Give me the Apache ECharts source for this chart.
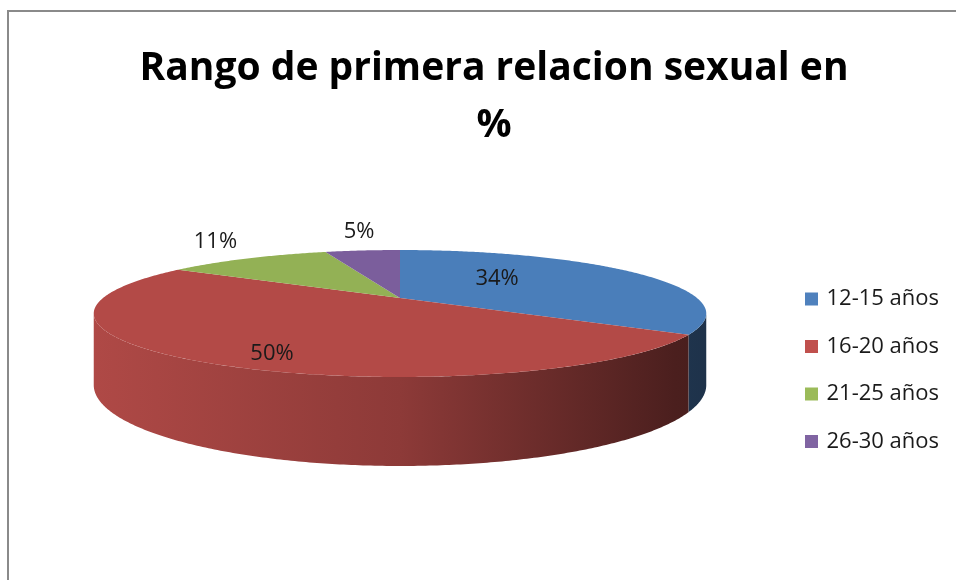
<!DOCTYPE html>
<html>
<head>
<meta charset="utf-8">
<title>Rango de primera relacion sexual en %</title>
<script src="https://cdn.jsdelivr.net/npm/echarts@6/dist/echarts.min.js"></script>
<style>
    html, body { margin: 0; padding: 0; background: #fff; }
    #chart1 { width: 956px; height: 580px; }
</style>
</head>
<body>
<div id="chart1"></div>
<script>
// datos
var categorias = ['12-15 años', '16-20 años', '21-25 años', '26-30 años'];
var porcentajes = [34, 50, 11, 5];

// colores (leyenda y cara superior del pastel)
var coloresLeyenda = ['#4F81BD', '#C0504D', '#9BBB59', '#8064A2'];
var coloresTapa = ['#4A7EBA', '#B34A47', '#93B155', '#7B5E9C'];

// geometria del pastel 3D (perspectiva simple)
var cx = 400, cy = 298, R = 297, B = 59.7, k = 0.244, D = 67.3;
// posicion de etiquetas: [radio relativo, desplazamiento vertical]
var labelLayout = [[0.39, -9], [0.69, 15], [1.26, -8], [1.12, -14]];

var total = porcentajes.reduce(function (a, b) { return a + b; }, 0);

function proj(theta, f, abajo) {
    var u = f * Math.sin(theta), v = f * Math.cos(theta);
    var w = 1 + k * v;
    return [cx + R * u / w, cy - B * v / w + (abajo ? D / w : 0)];
}

function oscurecer(hex, f) {
    var n = parseInt(hex.slice(1), 16);
    var r = Math.round(((n >> 16) & 255) * f);
    var g = Math.round(((n >> 8) & 255) * f);
    var b = Math.round((n & 255) * f);
    return 'rgb(' + r + ',' + g + ',' + b + ')';
}

function arco(a0, a1, abajo) {
    var pts = [];
    var pasos = Math.max(2, Math.ceil((a1 - a0) / 0.01));
    for (var s = 0; s <= pasos; s++) {
        pts.push(proj(a0 + (a1 - a0) * s / pasos, 1, abajo));
    }
    return pts;
}

function renderSlice(i) {
    return function (params, api) {
        var antes = 0;
        for (var j = 0; j < i; j++) antes += porcentajes[j];
        var valor = api.value(0);
        var a0 = antes / total * Math.PI * 2;
        var a1 = (antes + valor) / total * Math.PI * 2;
        var hijos = [];

        // lado visible (frente)
        var t1 = Math.acos(-k), t2 = Math.PI * 2 - Math.acos(-k);
        var s0 = Math.max(a0, t1), s1 = Math.min(a1, t2);
        if (s1 > s0) {
            var pts = arco(s0, s1, false).concat(arco(s0, s1, true).reverse());
            var base = coloresTapa[i];
            hijos.push({
                type: 'polygon',
                z2: 0,
                shape: { points: pts },
                style: {
                    fill: {
                        type: 'linear', x: cx - R * 1.031, y: 0, x2: cx + R * 1.031, y2: 0, global: true,
                        colorStops: [
                            { offset: 0, color: oscurecer(base, 0.98) },
                            { offset: 0.5, color: oscurecer(base, 0.79) },
                            { offset: 0.95, color: oscurecer(base, 0.42) },
                            { offset: 1, color: oscurecer(base, 0.4) }
                        ]
                    }
                }
            });
        }

        // cara superior
        var tapa = [[cx, cy]].concat(arco(a0, a1, false));
        hijos.push({
            type: 'polygon',
            z2: 10,
            shape: { points: tapa },
            style: { fill: coloresTapa[i] }
        });

        // etiqueta
        var am = (a0 + a1) / 2;
        var p = proj(am, labelLayout[i][0], false);
        hijos.push({
            type: 'text',
            z2: 20,
            style: {
                text: valor + '%',
                x: p[0],
                y: p[1] + labelLayout[i][1],
                fill: '#1a1a1a',
                font: '22px "Open Sans"',
                align: 'center',
                verticalAlign: 'middle'
            }
        });

        return { type: 'group', children: hijos };
    };
}

var chart1 = echarts.init(document.getElementById('chart1'));
var option1 = {
    animation: false,
    color: coloresLeyenda,
    title: {
        text: 'Rango de primera relacion sexual en\n%',
        left: 489,
        top: 35,
        textAlign: 'center',
        textStyle: {
            fontFamily: 'Open Sans',
            fontSize: 39,
            fontWeight: 'bold',
            color: '#000',
            lineHeight: 57
        }
    },
    legend: {
        orient: 'vertical',
        left: 800,
        top: 283,
        itemWidth: 20,
        itemHeight: 13,
        itemGap: 25.5,
        icon: 'path://M0,0H13V13H0Z',
        data: categorias,
        textStyle: {
            fontFamily: 'Open Sans',
            fontSize: 22,
            color: '#1a1a1a'
        }
    },
    graphic: [
        {
            type: 'rect',
            shape: { x: 8, y: 11, width: 1000, height: 1000 },
            style: { fill: 'none', stroke: '#8a8a8a', lineWidth: 2 }
        }
    ],
    series: categorias.map(function (nombre, i) {
        return {
            type: 'custom',
            name: nombre,
            coordinateSystem: 'none',
            itemStyle: { color: coloresLeyenda[i] },
            data: [porcentajes[i]],
            renderItem: renderSlice(i)
        };
    })
};
chart1.setOption(option1);
</script>
</body>
</html>
